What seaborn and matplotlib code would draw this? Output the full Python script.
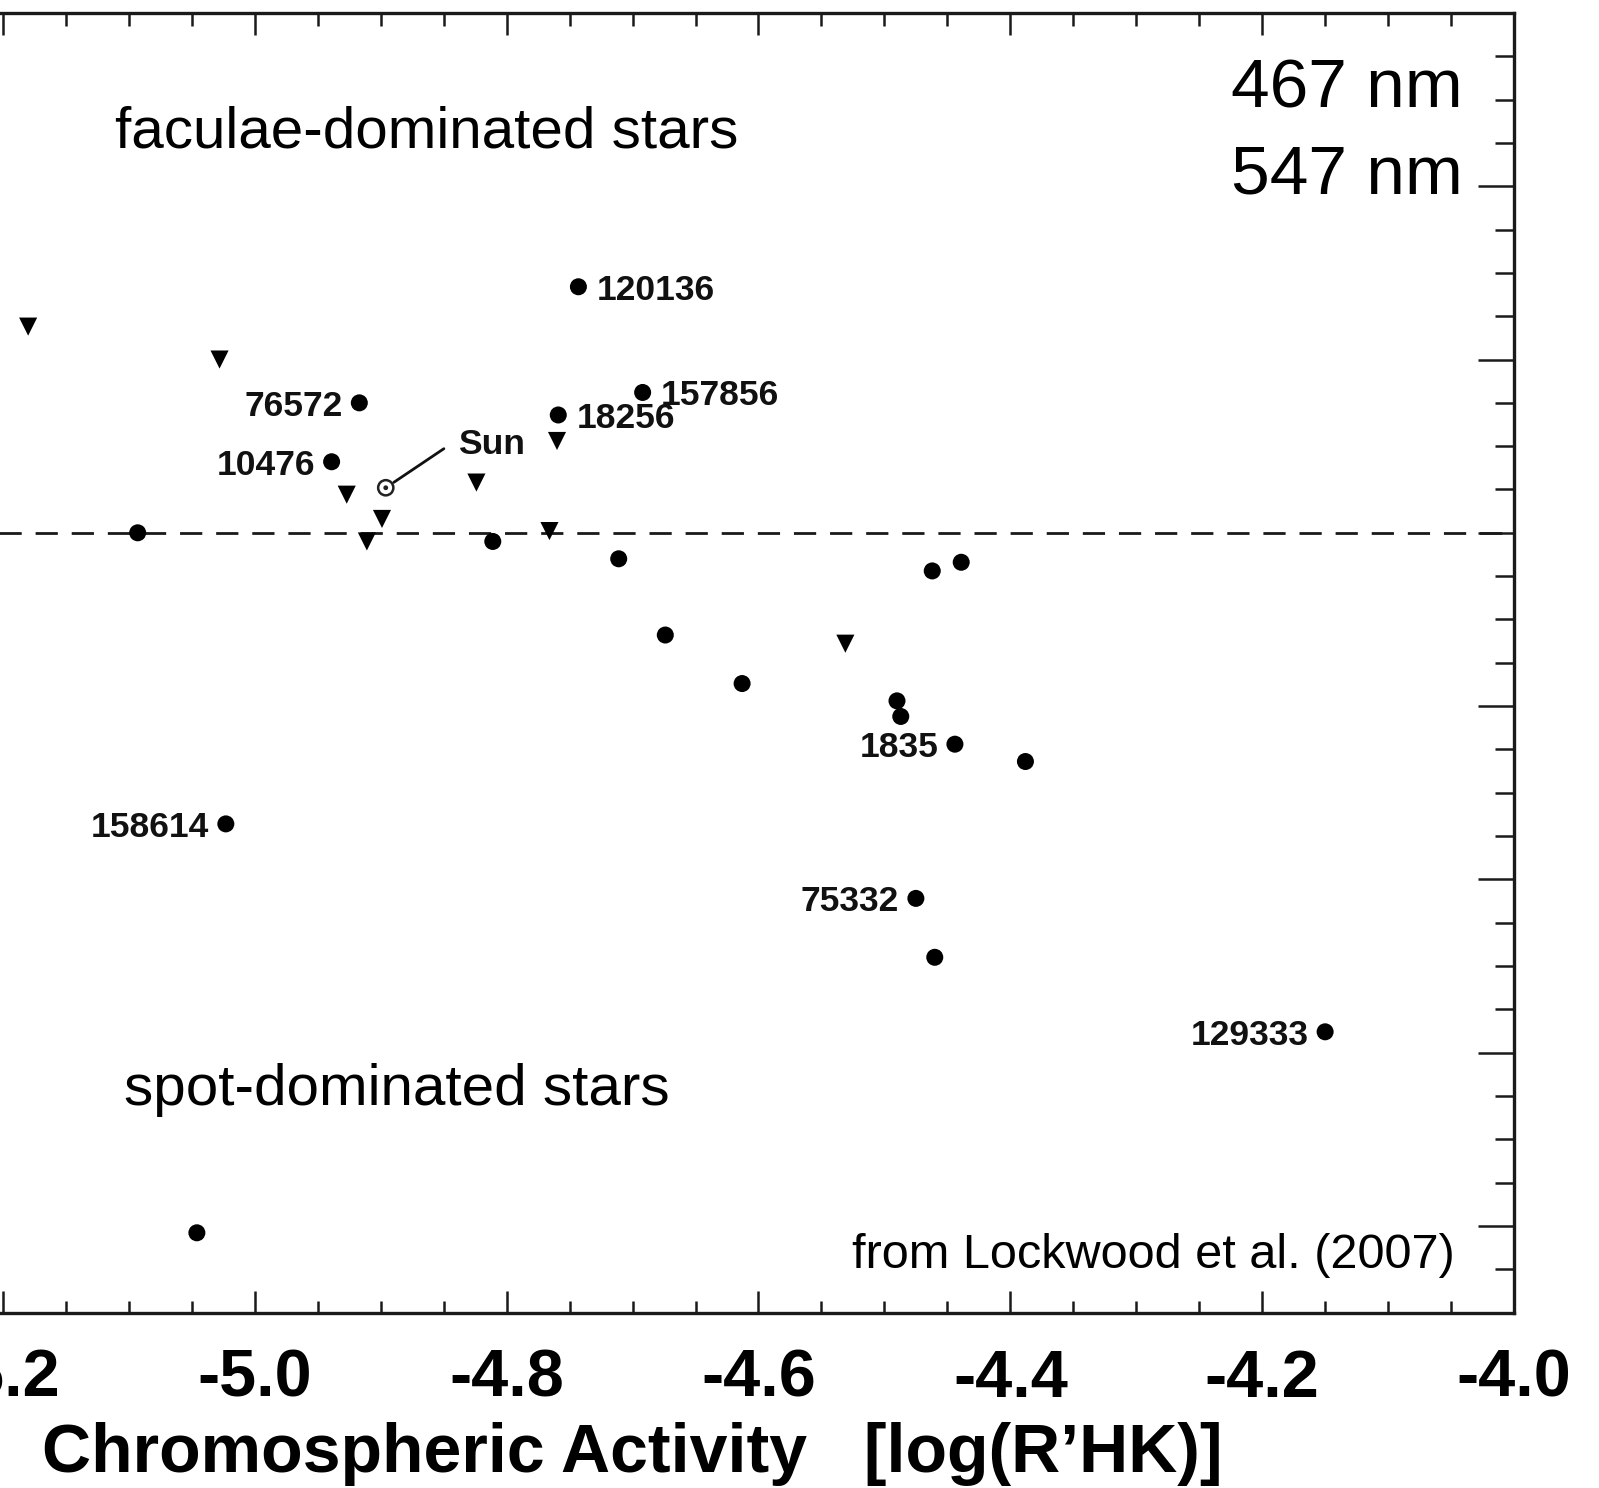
import matplotlib
matplotlib.use("Agg")
import matplotlib.pyplot as plt
from matplotlib.ticker import MultipleLocator, FormatStrFormatter
import pandas as pd
import seaborn as sns

# Active stars (circles): chromospheric activity and photometric slope
circle_x = [-5.093, -4.811, -4.711, -4.674, -4.613, -4.490, -4.487, -4.462,
            -4.439, -4.444, -4.388, -4.475, -4.460, -4.150, -5.023, -5.046,
            -4.743, -4.692, -4.759, -4.917, -4.939]
circle_y = [0.000, -0.005, -0.015, -0.059, -0.087, -0.097, -0.106, -0.022,
            -0.017, -0.122, -0.132, -0.211, -0.245, -0.288, -0.168, -0.404,
            0.142, 0.081, 0.068, 0.075, 0.041]
circle_names = ["", "", "", "", "", "", "", "",
                "", "1835", "", "75332", "", "129333", "158614", "",
                "120136", "157856", "18256", "76572", "10476"]
circle_label_side = ["", "", "", "", "", "", "", "",
                     "", "left", "", "left", "", "left", "left", "",
                     "right", "right", "right", "left", "left"]

# Stars with upper limits (downward triangles)
tri_x = [-5.180, -5.028, -4.927, -4.899, -4.911, -4.824, -4.760, -4.766, -4.531]
tri_y = [0.119, 0.100, 0.022, 0.008, -0.005, 0.029, 0.053, 0.001, -0.064]

# The Sun
sun_x = [-4.896]
sun_y = [0.026]
sun_label_pos = (-4.839, 0.053)

x_ticks = [-5.2, -5.0, -4.8, -4.6, -4.4, -4.2, -4.0]

sns.set_theme(style="ticks")
plt.rcParams["font.family"] = ["Liberation Sans", "DejaVu Sans"]
plt.rcParams["axes.unicode_minus"] = False
plt.rcParams["text.color"] = "black"
plt.rcParams["axes.labelcolor"] = "black"
plt.rcParams["xtick.color"] = "black"
plt.rcParams["ytick.color"] = "black"

W, H = 1599, 1488
fig = plt.figure(figsize=(W / 100, H / 100), dpi=100)
fig.patch.set_facecolor("white")
ax = fig.add_axes([-60 / W, (H - 1312.5) / H, 1574 / W, 1299.5 / H])
ax.set_facecolor("white")

circles = pd.DataFrame({"logRHK": circle_x, "slope": circle_y, "name": circle_names,
                        "side": circle_label_side})
tris = pd.DataFrame({"logRHK": tri_x, "slope": tri_y})
sun = pd.DataFrame({"logRHK": sun_x, "slope": sun_y})

ax.axhline(0, color="#1a1a1a", lw=2.0, dashes=(8, 5), zorder=1)

sns.scatterplot(data=circles, x="logRHK", y="slope", marker="o", s=150,
                color="black", edgecolor="none", ax=ax, zorder=3, legend=False)
sns.scatterplot(data=tris, x="logRHK", y="slope", marker="v", s=170,
                color="black", edgecolor="none", ax=ax, zorder=3, legend=False)
# Sun symbol: open circle with a central dot
sns.scatterplot(data=sun, x="logRHK", y="slope", marker="o", s=120,
                facecolor="none", edgecolor="#222222", linewidth=1.8, ax=ax,
                zorder=3, legend=False)
sns.scatterplot(data=sun, x="logRHK", y="slope", marker="o", s=12,
                color="#222222", edgecolor="none", ax=ax, zorder=4, legend=False)

for _, row in circles.iterrows():
    if not row["name"]:
        continue
    if row["side"] == "right":
        off, ha = (13, 0), "left"
    else:
        off, ha = (-12, 0), "right"
    ax.annotate(row["name"], (row["logRHK"], row["slope"]), xytext=off,
                textcoords="offset points", ha=ha, va="center_baseline",
                fontsize=25.5, fontweight="bold", color="#111111")

ax.annotate("Sun", (sun_x[0], sun_y[0]), xytext=sun_label_pos, textcoords="data",
            ha="left", va="center_baseline", fontsize=25.5, fontweight="bold",
            color="#111111",
            arrowprops=dict(arrowstyle="-", color="#111111", lw=2,
                            relpos=(0.0, 0.65), shrinkA=9, shrinkB=7))

ax.set_xlim(-5.25, -4.0)
ax.set_ylim(-0.45, 0.3)
ax.xaxis.set_major_locator(MultipleLocator(0.2))
ax.xaxis.set_minor_locator(MultipleLocator(0.05))
ax.yaxis.set_major_locator(MultipleLocator(0.1))
ax.yaxis.set_minor_locator(MultipleLocator(0.025))
ax.set_xticks(x_ticks)
ax.xaxis.set_major_formatter(FormatStrFormatter("%.1f"))

ax.tick_params(axis="both", which="both", direction="in", top=True, bottom=True,
               left=True, right=True, labelleft=False, labelright=False,
               color="#1a1a1a")
ax.tick_params(axis="x", which="major", length=16, width=1.8, pad=26,
               labelsize=48)
ax.tick_params(axis="x", which="minor", length=9, width=1.8)
ax.tick_params(axis="y", which="major", length=26, width=1.8)
ax.tick_params(axis="y", which="minor", length=14, width=1.8)
for lab in ax.get_xticklabels():
    lab.set_fontweight("bold")

for sp in ax.spines.values():
    sp.set_linewidth(2.4)
    sp.set_color("#1a1a1a")

ax.set_ylabel("")
ax.set_xlabel("Chromospheric Activity   [log(R\u2019HK)]", fontsize=49,
              fontweight="bold")
ax.xaxis.set_label_coords(0.4397, -0.1227)
ax.xaxis.label.set_va("baseline")

fig.text(115 / W, 1 - 148 / H, "faculae-dominated stars", fontsize=42,
         ha="left", va="baseline")
fig.text(124 / W, 1 - 1105 / H, "spot-dominated stars", fontsize=42,
         ha="left", va="baseline")
fig.text(1463 / W, 1 - 107 / H, "467 nm", fontsize=50, ha="right", va="baseline")
fig.text(1463 / W, 1 - 193 / H, "547 nm", fontsize=50, ha="right", va="baseline")
fig.text(1455 / W, 1 - 1268 / H, "from Lockwood et al. (2007)", fontsize=35,
         ha="right", va="baseline")

fig.savefig("out.png", dpi=100, facecolor="white")
